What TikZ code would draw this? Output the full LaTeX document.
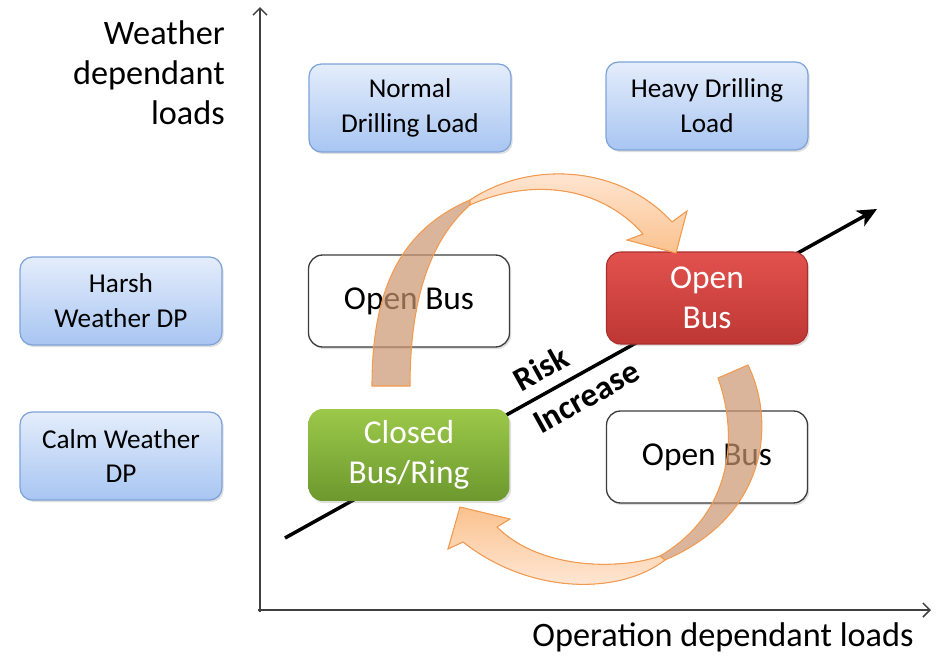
\documentclass[tikz,border=0pt]{standalone}
\usepackage{fontspec}
\setmainfont{Carlito}
\usepackage{tikz}
\usetikzlibrary{arrows.meta,shadows}
\definecolor{axisgray}{HTML}{404040}
\definecolor{loadtop}{HTML}{E4EDFB}
\definecolor{loadbot}{HTML}{A8C5F2}
\definecolor{loadline}{HTML}{7EA3D8}
\definecolor{boxline}{HTML}{3C3C3C}
\definecolor{redtop}{HTML}{E2524E}
\definecolor{redbot}{HTML}{BE3734}
\definecolor{redline}{HTML}{A9302D}
\definecolor{greentop}{HTML}{9CC94A}
\definecolor{greenbot}{HTML}{6C982E}
\definecolor{turnline}{HTML}{F39A4E}
\definecolor{turnlight}{HTML}{FFEBDC}
\definecolor{turnmid}{HTML}{FBC28F}
\definecolor{turnback}{HTML}{CC9670}
\tikzset{
  ax/.style={draw=axisgray, line width=0.85pt, -{Straight Barb[length=4pt,width=8pt]}},
  axlab/.style={font=\fontsize{19.5}{22.7}\selectfont, align=right},
  load/.style={draw=loadline, line width=0.7pt, rounded corners=7pt,
    top color=loadtop, bottom color=loadbot,
    drop shadow={shadow xshift=1pt, shadow yshift=-1.2pt, opacity=0.25},
    minimum width=4.04cm, minimum height=1.76cm, align=center,
    font=\fontsize{15.5}{19.8}\selectfont},
  state/.style={rounded corners=8pt, minimum width=4.02cm, minimum height=1.84cm,
    align=center, font=\fontsize{19}{22.7}\selectfont,
    drop shadow={shadow xshift=1pt, shadow yshift=-1.2pt, opacity=0.25}},
  openbox/.style={state, draw=boxline, line width=0.75pt, fill=white},
  redbox/.style={state, draw=redline, line width=0.6pt, top color=redtop,
    bottom color=redbot, text=white},
  greenbox/.style={state, top color=greentop, bottom color=greenbot, text=white},
  risk/.style={draw=black, line width=2pt, -{Stealth[length=11pt,width=10pt,inset=3pt]}},
  risklab/.style={font=\fontsize{19}{22.7}\bfseries\selectfont, sloped, inner sep=1pt},
  turnfront/.style={draw=turnline, line width=0.6pt},
  turnrear/.style={draw=turnline, line width=0.6pt, fill=turnback, fill opacity=0.7}
}
\begin{document}
\begin{tikzpicture}[x=0.02cm, y=-0.02cm]
  \useasboundingbox (0,0) rectangle (938,656);

  % axes
  \coordinate (O) at (260,612);
  \coordinate (ytop) at (260,7);
  \coordinate (xend) at (931,610);
  \draw[ax] (O) -- (ytop);
  \draw[ax] (258,610) -- (xend);
  \node[axlab, anchor=east] (ylab) at (231,73) {Weather\\dependant\\loads};
  \node[axlab] (xlab) at (723,637) {Operation dependant loads};

  % risk direction, behind the boxes
  \coordinate (rlo) at (285,538);
  \coordinate (rhi) at (877,209);
  \draw[risk] (rlo) -- node[risklab, pos=0.452, above=5pt] (risk) {Risk}
    node[risklab, pos=0.49, below=5pt] (incr) {Increase} (rhi);

  % load classes
  \node[load] (normal) at (410,108) {Normal\\Drilling Load};
  \node[load] (heavy) at (707,106) {Heavy Drilling\\Load};
  \node[load] (harsh) at (121,301) {Harsh\\Weather DP};
  \node[load] (calm) at (121,456) {Calm Weather\\DP};

  % operating modes
  \node[openbox] (openA) at (409,301) {Open Bus};
  \node[redbox] (openR) at (707,298) {Open\\Bus};
  \node[greenbox] (closed) at (409,455) {Closed\\Bus/Ring};
  \node[openbox] (openB) at (707,457) {Open Bus};

  % upper turning arrow
  \filldraw[turnrear] (372,386) .. controls (372,290) and (400,230) .. (470,200)
    -- (470,205) .. controls (430,240) and (410,300) .. (410,386) -- cycle;
  \filldraw[turnfront, top color=turnlight, bottom color=turnmid]
    (470,200) .. controls (530,160) and (620,165) .. (672,222)
    -- (687,211) -- (676,253) -- (627,240) -- (643,234)
    .. controls (600,185) and (530,178) .. (470,205) -- cycle;

  % lower turning arrow
  \filldraw[turnrear] (718,378) -- (748,365) .. controls (775,420) and (770,515) .. (665,560)
    -- (660,556) .. controls (730,515) and (740,440) .. (718,378) -- cycle;
  \filldraw[turnfront, top color=turnmid, bottom color=turnlight]
    (665,560) .. controls (620,595) and (530,595) .. (463,542)
    -- (448,549) -- (460,507) -- (510,519) -- (497,527)
    .. controls (540,570) and (620,570) .. (660,556) -- cycle;
\end{tikzpicture}
\end{document}
